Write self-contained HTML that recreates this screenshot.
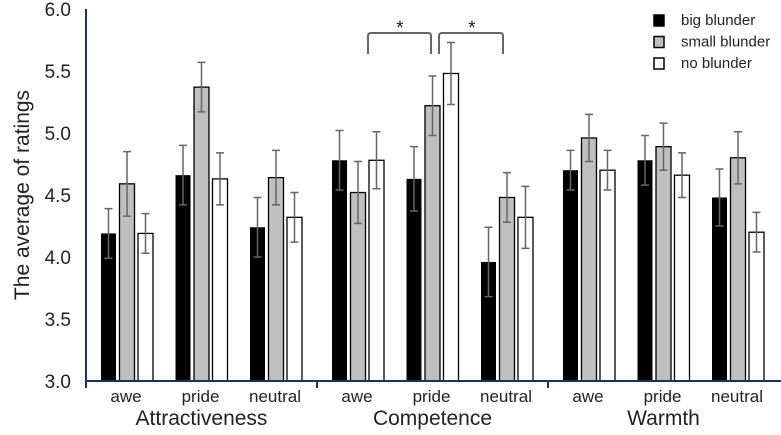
<!DOCTYPE html>
<html><head><meta charset="utf-8"><style>
body{margin:0;background:#fff}
svg text{font-family:"Liberation Sans",sans-serif}
</style></head><body>
<svg id="chart" width="781" height="430" xmlns="http://www.w3.org/2000/svg"></svg>
<script>
const categories=["Attractiveness","Competence","Warmth"];
const groups=["awe","pride","neutral"];
const seriesNames=["big blunder","small blunder","no blunder"];
const bigValues=[4.19,4.66,4.24,4.78,4.63,3.96,4.70,4.78,4.48];
const smallValues=[4.59,5.37,4.64,4.52,5.22,4.48,4.96,4.89,4.80];
const noValues=[4.19,4.63,4.32,4.78,5.48,4.32,4.70,4.66,4.20];
const bigErr=[0.20,0.24,0.24,0.24,0.26,0.28,0.16,0.20,0.23];
const smallErr=[0.26,0.20,0.22,0.25,0.24,0.20,0.19,0.19,0.21];
const noErr=[0.16,0.21,0.20,0.23,0.25,0.25,0.16,0.18,0.16];
const yTicks=[3.0,3.5,4.0,4.5,5.0,5.5,6.0];
const fills=["#000","#bfbfbf","#fff"];
const NS="http://www.w3.org/2000/svg";
const svg=document.getElementById('chart');
function el(t,a,txt){const e=document.createElementNS(NS,t);for(const k in a)e.setAttribute(k,a[k]);if(txt!==undefined)e.textContent=txt;svg.appendChild(e);return e;}
const x0=86,catW=231,y0=381,yPerUnit=124;
function yS(v){return y0-(v-3)*yPerUnit;}
function groupLeft(i){const c=Math.floor(i/3),g=i%3;return x0+c*catW+15+g*74.5;}
const allVals=[bigValues,smallValues,noValues],allErr=[bigErr,smallErr,noErr];
yTicks.forEach(t=>{const e=el('text',{x:71,y:yS(t)+7,'text-anchor':'end','font-size':19,fill:'#222'},t.toFixed(1));

});
const yt=el('text',{x:0,y:0,transform:'translate(29,195) rotate(-90)','text-anchor':'middle','font-size':21,fill:'#222'},'The average of ratings');

for(let i=0;i<9;i++){
 const gl=groupLeft(i);
 for(let s=0;s<3;s++){
  const bx=gl+s*18.5,v=allVals[s][i],er=allErr[s][i],cx=bx+7.5;
  const r=el('rect',{x:bx,y:yS(v),width:15,height:y0-yS(v),fill:fills[s],stroke:'#000','stroke-width':s===0?0:1.3});
  
  
  const ep=el('path',{d:`M${cx},${yS(v+er)}V${yS(v-er)}M${cx-4},${yS(v+er)}H${cx+4}M${cx-4},${yS(v-er)}H${cx+4}`,stroke:'#666','stroke-width':1.5,fill:'none'});
  
 }
 const lx=gl+25;
 const gt=el('text',{x:lx,y:402,'text-anchor':'middle','font-size':17,fill:'#222'},groups[i%3]);
 
}
categories.forEach((c,k)=>{const t=el('text',{x:x0+k*catW+catW/2,y:425,'text-anchor':'middle','font-size':21,fill:'#222'},c);
});
const ax=el('path',{d:`M${x0},${yS(6)}V${y0}H781M${x0+catW},${y0}v7M${x0+2*catW},${y0}v7M${x0},${y0}v7`,stroke:'#1f3068','stroke-width':2,fill:'none'});

[[368,431,400],[439,503,472]].forEach(b=>{
 const p=el('path',{d:`M${b[0]},54V36Q${b[0]},33 ${b[0]+3},33H${b[1]-3}Q${b[1]},33 ${b[1]},36V54`,stroke:'#666','stroke-width':2,fill:'none'});
 
 const s=el('text',{x:b[2],y:34,'text-anchor':'middle','font-size':19,fill:'#222'},'*');
 
});
seriesNames.forEach((n,s)=>{const y=15+s*21.5;
 const r=el('rect',{x:654,y:y,width:10,height:11,fill:fills[s],stroke:'#000','stroke-width':1.5});
 
 const t=el('text',{x:681,y:y+10,'font-size':15,fill:'#222'},n);
 
});
</script>
</body></html>
